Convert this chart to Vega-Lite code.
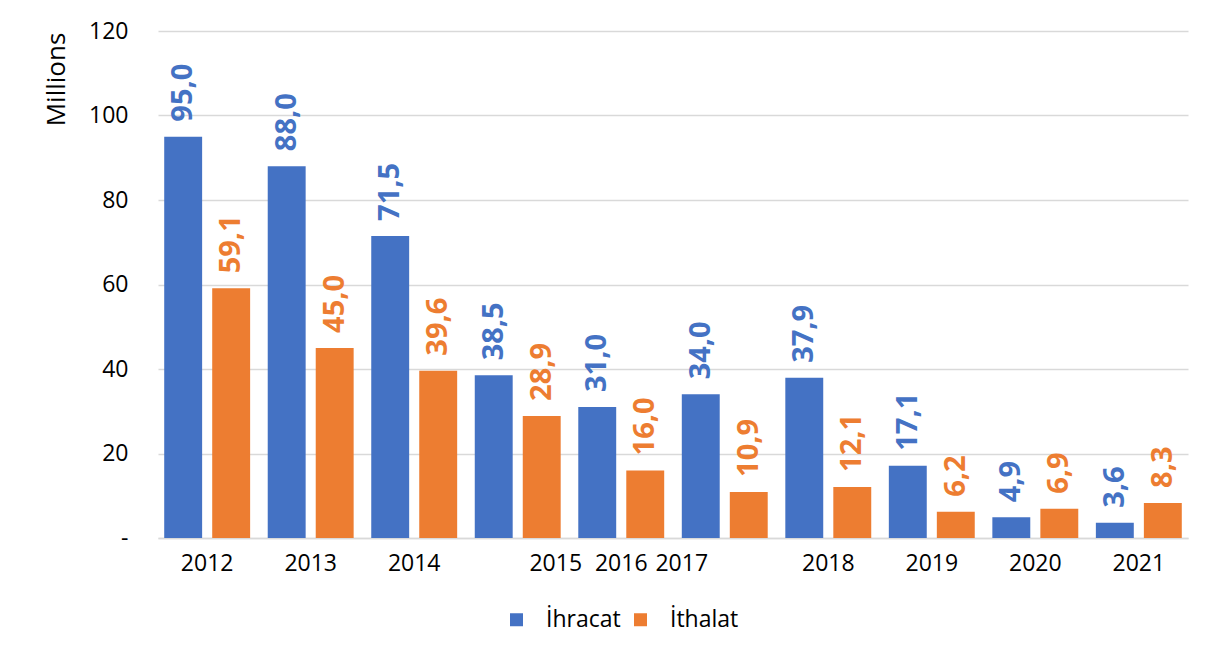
{
  "$schema": "https://vega.github.io/schema/vega-lite/v6.json",
  "autosize": "none",
  "width": 1030,
  "height": 507,
  "padding": {"left": 158, "top": 31, "right": 29, "bottom": 122},
  "background": "white",
  "config": {
    "font": "Open Sans",
    "locale": {"number": {"decimal": ",", "thousands": ".", "grouping": [3], "currency": ["", ""]}},
    "view": {"stroke": null}
  },
  "data": {
    "values": [
      {"year": "2012", "series": "İhracat", "value": 95.0},
      {"year": "2012", "series": "İthalat", "value": 59.1},
      {"year": "2013", "series": "İhracat", "value": 88.0},
      {"year": "2013", "series": "İthalat", "value": 45.0},
      {"year": "2014", "series": "İhracat", "value": 71.5},
      {"year": "2014", "series": "İthalat", "value": 39.6},
      {"year": "2015", "series": "İhracat", "value": 38.5},
      {"year": "2015", "series": "İthalat", "value": 28.9},
      {"year": "2016", "series": "İhracat", "value": 31.0},
      {"year": "2016", "series": "İthalat", "value": 16.0},
      {"year": "2017", "series": "İhracat", "value": 34.0},
      {"year": "2017", "series": "İthalat", "value": 10.9},
      {"year": "2018", "series": "İhracat", "value": 37.9},
      {"year": "2018", "series": "İthalat", "value": 12.1},
      {"year": "2019", "series": "İhracat", "value": 17.1},
      {"year": "2019", "series": "İthalat", "value": 6.2},
      {"year": "2020", "series": "İhracat", "value": 4.9},
      {"year": "2020", "series": "İthalat", "value": 6.9},
      {"year": "2021", "series": "İhracat", "value": 3.6},
      {"year": "2021", "series": "İthalat", "value": 8.3}
    ]
  },
  "encoding": {
    "x": {
      "field": "year", "type": "ordinal",
      "scale": {"paddingInner": 0.17, "paddingOuter": 0.06},
      "axis": {"title": null, "labelAngle": 0, "ticks": false, "domainColor": "#d9d9d9", "domainWidth": 1.5,
               "labelFontSize": 23, "labelColor": "#000000", "labelPadding": 14, "labelFont": "Open Sans",
               "labelOffset": {"condition": [{"test": "datum.value == '2015'", "value": 38}, {"test": "datum.value == '2017'", "value": -43}], "value": 0}}
    },
    "xOffset": {"field": "series", "type": "nominal", "sort": ["İhracat", "İthalat"], "scale": {"paddingInner": 0.21}},
    "y": {
      "field": "value", "type": "quantitative",
      "scale": {"domain": [0, 120], "nice": false},
      "axis": {
        "values": [0, 20, 40, 60, 80, 100, 120],
        "title": "Millions", "titleFontSize": 26, "titleFontWeight": "normal", "titleColor": "#000000",
        "titleX": -102, "titleY": 48, "titleAngle": 270, "titleAlign": "center", "titleBaseline": "middle",
        "labelExpr": "datum.value == 0 ? '-' : datum.label",
        "labelFontSize": 23, "labelColor": "#000000", "labelPadding": 30,
        "ticks": false, "domain": false, "gridColor": "#d9d9d9", "gridWidth": 1.5
      }
    },
    "color": {
      "field": "series", "type": "nominal",
      "scale": {"domain": ["İhracat", "İthalat"], "range": ["#4472C4", "#ED7D31"]},
      "legend": {
        "title": null, "orient": "none", "direction": "horizontal",
        "legendX": 347, "legendY": 577,
        "symbolType": "square", "symbolSize": 169, "symbolStrokeWidth": 0,
        "labelFontSize": 23, "labelColor": "#000000", "columnPadding": 8, "labelOffset": 18
      }
    }
  },
  "layer": [
    {"mark": {"type": "bar"}},
    {
      "mark": {"type": "text", "angle": 270, "align": "left", "baseline": "middle", "dx": 15, "fontSize": 29, "fontWeight": "bold"},
      "encoding": {"text": {"field": "value", "type": "quantitative", "format": ".1f"}}
    }
  ]
}
